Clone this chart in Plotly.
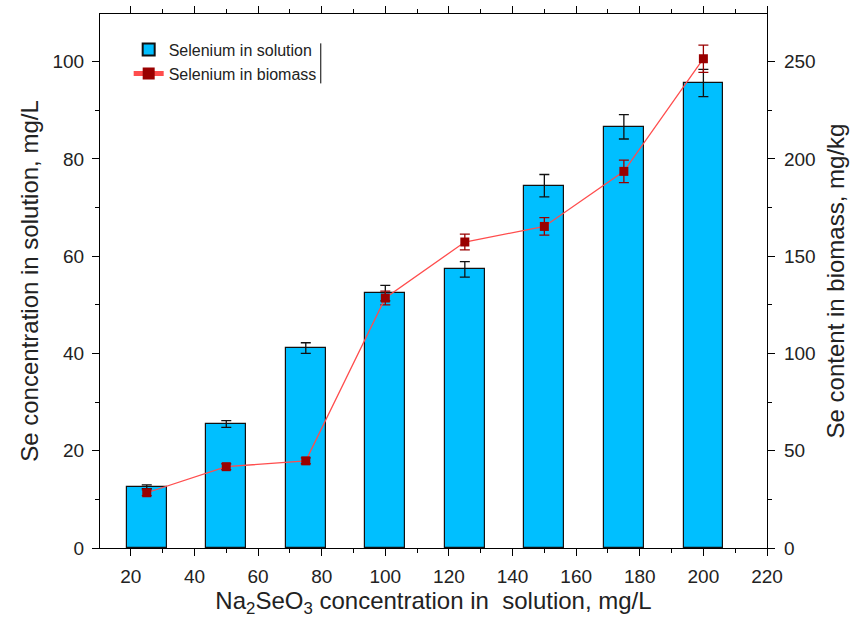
import plotly.graph_objects as go

na2seo3 = [25, 50, 75, 100, 125, 150, 175, 200]
se_solution = [12.6, 25.5, 41.1, 52.4, 57.3, 74.5, 86.6, 95.6]
se_solution_err = [0.4, 0.7, 1.1, 1.6, 1.6, 2.3, 2.5, 2.8]
se_biomass = [28.4, 41.8, 44.8, 128.5, 157.3, 165.3, 193.6, 251.5]
se_biomass_err = [1.5, 1.5, 1.5, 3.5, 4.0, 4.5, 5.8, 7.0]

x_ticks = list(range(20, 221, 20))
x_minor = list(range(30, 221, 20))

font_family = "Liberation Sans, Arial, sans-serif"

fig = go.Figure()
fig.add_trace(go.Bar(
    x=na2seo3, y=se_solution, width=12.5, name="Selenium in solution",
    marker=dict(color="#00BFFF", line=dict(color="#111111", width=1.2)),
    error_y=dict(type="data", array=se_solution_err, color="#111111", thickness=1.3, width=5),
    yaxis="y",
))
fig.add_trace(go.Scatter(
    x=na2seo3, y=se_biomass, name="Selenium in biomass", mode="lines+markers",
    line=dict(color="#FF4D4D", width=1.3),
    marker=dict(symbol="square", size=9, color="#9A0000"),
    error_y=dict(type="data", array=se_biomass_err, color="#9A0000", thickness=1.3, width=5),
    yaxis="y2",
))

axis_common = dict(showline=True, linecolor="black", linewidth=1.2, showgrid=False, zeroline=False,
                   tickcolor="black", automargin=False)
tick_font = dict(family=font_family, size=19, color="#222")
title_font = dict(family=font_family, size=24, color="#222")

fig.update_layout(
    width=852, height=626,
    margin=dict(l=100, r=85, t=14, b=78),
    plot_bgcolor="white", paper_bgcolor="white",
    font=dict(family=font_family, color="#222"),
    bargap=0,
    xaxis=dict(range=[10.3, 220], tickmode="array", tickvals=x_ticks, mirror="ticks",
               ticks="outside", ticklen=7, tickwidth=1.3, tickfont=tick_font, ticklabelstandoff=4,
               minor=dict(tickvals=x_minor, ticks="outside", ticklen=4, tickcolor="black"),
               title=dict(text="Na<sub>2</sub>SeO<sub>3</sub> concentration in  solution, mg/L",
                          font=title_font, standoff=6),
               **axis_common),
    yaxis=dict(range=[0, 109.8], tickmode="array", tickvals=list(range(0, 101, 20)),
               ticks="outside", ticklen=7, tickwidth=1.3, tickfont=tick_font, ticklabelstandoff=4,
               minor=dict(tickvals=list(range(10, 101, 20)), ticks="outside", ticklen=4, tickcolor="black"),
               title=dict(text="Se concentration in solution, mg/L", font=title_font, standoff=6),
               **axis_common),
    yaxis2=dict(range=[0, 274.5], overlaying="y", side="right", tickmode="array",
                tickvals=list(range(0, 251, 50)),
                ticks="outside", ticklen=7, tickwidth=1.3, tickfont=tick_font, ticklabelstandoff=5,
                minor=dict(tickvals=list(range(25, 251, 50)), ticks="outside", ticklen=4, tickcolor="black"),
                title=dict(text="Se content in biomass, mg/kg", font=title_font, standoff=12),
                **axis_common),
    legend=dict(x=0.043, y=0.965, xanchor="left", yanchor="top", bgcolor="rgba(0,0,0,0)",
                font=dict(size=16, family=font_family, color="#222"), tracegroupgap=0,
                itemsizing="constant"),
    showlegend=True,
)
fig.add_shape(type="line", xref="paper", yref="paper", x0=0.331, x1=0.331, y0=0.87, y1=0.945,
              line=dict(color="black", width=1))

fig.write_html("out.html")
